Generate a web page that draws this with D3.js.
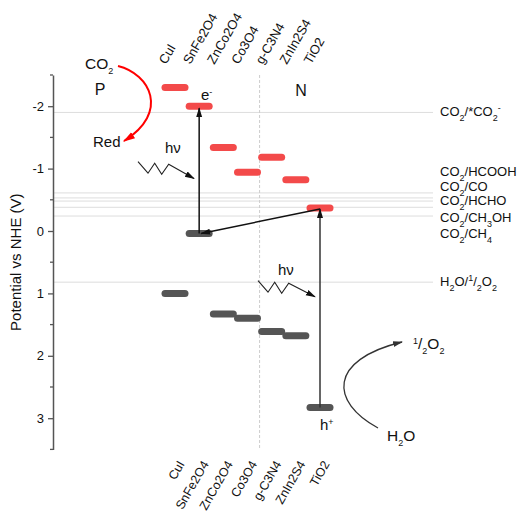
<!DOCTYPE html>
<html>
<head>
<meta charset="UTF-8">
<script src="https://d3js.org/d3.v7.min.js"></script>
<style>
  body { margin: 0; background: #fff; }
  text { font-family: Arial, "Liberation Sans", sans-serif; fill: #111; }
</style>
</head>
<body>
<svg id="chart" width="518" height="515"></svg>
<script>
// materials and band edges (V vs NHE)
const materials = ["CuI", "SnFe2O4", "ZnCo2O4", "Co3O4", "g-C3N4", "ZnIn2S4", "TiO2"];
const cbValues = [-2.30, -2.00, -1.34, -0.94, -1.18, -0.82, -0.37];
const vbValues = [1.00, 0.04, 1.33, 1.40, 1.61, 1.68, 2.83];

// redox potentials
const redoxNames = ["CO_2/*CO_2^-", "CO_2/HCOOH", "CO_2/CO", "CO_2/HCHO", "CO_2/CH_3OH", "CO_2/CH_4", "H_2O/^1/_2O_2"];
const redoxValues = [-1.90, -0.61, -0.53, -0.48, -0.38, -0.24, 0.82];
const redoxLabelAt = [-1.91, -0.96, -0.72, -0.49, -0.22, 0.04, 0.81];

const majorTicks = [-2, -1, 0, 1, 2, 3];
const minorTicks = [-2.5, -1.5, -0.5, 0.5, 1.5, 2.5, 3.5];

const svg = d3.select("#chart");
const red = "#f34a4a", grey = "#555";

const y = d3.scaleLinear().domain([-2.5, 3.5]).range([75, 449.4]);
const x = d3.scalePoint().domain(materials).range([175, 320]);
const axisX = 53;

// markers
const defs = svg.append("defs");
function marker(id, color, size) {
  defs.append("marker").attr("id", id)
    .attr("viewBox", "0 0 10 10").attr("refX", 9).attr("refY", 5)
    .attr("markerWidth", size).attr("markerHeight", size)
    .attr("markerUnits", "userSpaceOnUse")
    .attr("orient", "auto")
    .append("path").attr("d", "M0,2 L10,5 L0,8 Z").attr("fill", color);
}
marker("ah", "#111", 10);
marker("ahRed", "red", 12);
marker("ahGrey", "#333", 10);

// redox lines
svg.append("g").selectAll("line").data(redoxValues).join("line")
  .attr("x1", axisX).attr("x2", 433)
  .attr("y1", d => y(d)).attr("y2", d => y(d))
  .attr("stroke", "#ddd").attr("stroke-width", 1);

// divider P / N
const divX = (x("Co3O4") + x("g-C3N4")) / 2;
svg.append("line")
  .attr("x1", divX).attr("x2", divX)
  .attr("y1", y(-2.5)).attr("y2", y(3.5))
  .attr("stroke", "#ccc").attr("stroke-dasharray", "3,2");

// axis
const axis = svg.append("g").attr("transform", `translate(${axisX},0)`)
  .call(d3.axisLeft(y).tickValues(majorTicks).tickFormat(d => String(d))
    .tickSize(5).tickSizeOuter(0).tickPadding(4));
axis.select(".domain").attr("stroke", "#555").attr("stroke-width", 1.5);
axis.selectAll(".tick line").attr("stroke", "#555").attr("stroke-width", 1.3);
axis.selectAll(".tick text").attr("font-size", 13).attr("fill", "#222")
  .attr("font-family", "Arial, 'Liberation Sans', sans-serif");
svg.append("g").selectAll("line").data(minorTicks).join("line")
  .attr("x1", axisX - 3).attr("x2", axisX)
  .attr("y1", d => y(d)).attr("y2", d => y(d))
  .attr("stroke", "#555").attr("stroke-width", 1.3);

svg.append("text")
  .attr("transform", `translate(21,${y(0.5)}) rotate(-90)`)
  .attr("text-anchor", "middle").attr("font-size", 15)
  .text("Potential vs NHE (V)");

// band bars
const barHalf = 10;
const bands = materials.map((m, i) => ({ m, cb: cbValues[i], vb: vbValues[i] }));
svg.append("g").selectAll("line").data(bands).join("line")
  .attr("x1", d => x(d.m) - barHalf).attr("x2", d => x(d.m) + barHalf)
  .attr("y1", d => y(d.cb)).attr("y2", d => y(d.cb))
  .attr("stroke", red).attr("stroke-width", 7).attr("stroke-linecap", "round");
svg.append("g").selectAll("line").data(bands).join("line")
  .attr("x1", d => x(d.m) - barHalf).attr("x2", d => x(d.m) + barHalf)
  .attr("y1", d => y(d.vb)).attr("y2", d => y(d.vb))
  .attr("stroke", grey).attr("stroke-width", 7).attr("stroke-linecap", "round");

// category labels top and bottom
svg.append("g").selectAll("text").data(materials).join("text")
  .attr("transform", d => `translate(${x(d) - 9},65) rotate(-60)`)
  .attr("font-size", 13).text(d => d);
svg.append("g").selectAll("text").data(materials).join("text")
  .attr("transform", d => `translate(${x(d) + 10},464) rotate(-60)`)
  .attr("text-anchor", "end").attr("font-size", 12.5).text(d => d);

// redox labels with sub/superscripts
function richText(sel, str) {
  let i = 0;
  while (i < str.length) {
    const c = str[i];
    if (c === "_" || c === "^") {
      sel.append("tspan").attr("font-size", 9)
        .attr("baseline-shift", c === "_" ? "sub" : "super").text(str[i + 1]);
      i += 2;
    } else {
      let j = i;
      while (j < str.length && str[j] !== "_" && str[j] !== "^") j++;
      sel.append("tspan").text(str.slice(i, j));
      i = j;
    }
  }
}
svg.append("g").selectAll("text").data(redoxNames).join("text")
  .attr("x", 440).attr("y", (d, i) => y(redoxLabelAt[i]) + 4.5)
  .attr("font-size", 13)
  .each(function (d) { richText(d3.select(this), d); });

// electron excitation in SnFe2O4
const sx = x("SnFe2O4");
svg.append("line")
  .attr("x1", sx).attr("x2", sx)
  .attr("y1", y(vbValues[1])).attr("y2", y(cbValues[1]) + 2)
  .attr("stroke", "#111").attr("stroke-width", 1.5).attr("marker-end", "url(#ah)");

// TiO2 excitation
const tx = x("TiO2");
svg.append("line")
  .attr("x1", tx).attr("x2", tx)
  .attr("y1", y(vbValues[6])).attr("y2", y(cbValues[6]) + 1)
  .attr("stroke", "#333").attr("stroke-width", 1.5).attr("marker-end", "url(#ah)");

// transfer TiO2 CB -> SnFe2O4 VB
svg.append("line")
  .attr("x1", tx).attr("y1", y(cbValues[6]) + 1)
  .attr("x2", sx + 2).attr("y2", y(vbValues[1]))
  .attr("stroke", "#111").attr("stroke-width", 1.5).attr("marker-end", "url(#ah)");

// light zigzags
const zig = (x0, y0, tipX, tipY) =>
  `M${x0},${y0} l10,11.5 l6.7,-10 l7,11 l7,-10 L${tipX},${tipY}`;
svg.append("path").attr("d", zig(138, 161.7, 194, 178.5))
  .attr("fill", "none").attr("stroke", "#222").attr("stroke-width", 1.1)
  .attr("marker-end", "url(#ah)");
svg.append("path").attr("d", zig(258, 280.7, 315, 296.7))
  .attr("fill", "none").attr("stroke", "#222").attr("stroke-width", 1.1)
  .attr("marker-end", "url(#ah)");
svg.append("text").attr("x", 165).attr("y", 153).attr("font-size", 15).text("hν");
svg.append("text").attr("x", 278).attr("y", 275).attr("font-size", 15).text("hν");

// e- and h+
const eT = svg.append("text").attr("x", 201).attr("y", 100).attr("font-size", 15);
eT.append("tspan").text("e");
eT.append("tspan").attr("font-size", 9).attr("baseline-shift", "super").text("-");
const hT = svg.append("text").attr("x", 320).attr("y", 430).attr("font-size", 15);
hT.append("tspan").text("h");
hT.append("tspan").attr("font-size", 9).attr("baseline-shift", "super").text("+");

// P / N
svg.append("text").attr("x", 100).attr("y", 95).attr("text-anchor", "middle").attr("font-size", 16).text("P");
svg.append("text").attr("x", 301).attr("y", 96).attr("text-anchor", "middle").attr("font-size", 16).text("N");

// CO2 reduction arrow
const co2 = svg.append("text").attr("x", 85).attr("y", 69).attr("font-size", 15.5);
richText(co2, "CO_2");
svg.append("path").attr("d", "M118,66 C150,74 170,112 124,141")
  .attr("fill", "none").attr("stroke", "red").attr("stroke-width", 2)
  .attr("marker-end", "url(#ahRed)");
svg.append("text").attr("x", 93).attr("y", 147).attr("font-size", 15).text("Red");

// water oxidation arrow
svg.append("path").attr("d", "M378,428 C330,402 328,360 402,342")
  .attr("fill", "none").attr("stroke", "#333").attr("stroke-width", 1.3)
  .attr("marker-end", "url(#ahGrey)");
const o2 = svg.append("text").attr("x", 413).attr("y", 349).attr("font-size", 15.5);
richText(o2, "^1/_2O_2");
const h2o = svg.append("text").attr("x", 387).attr("y", 441).attr("font-size", 15.5);
richText(h2o, "H_2O");
</script>
</body>
</html>
